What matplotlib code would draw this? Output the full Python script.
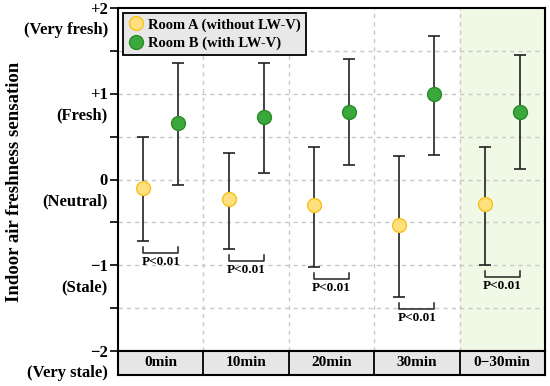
import numpy as np
import matplotlib.pyplot as plt
from matplotlib.lines import Line2D

plt.rcParams['font.family'] = ['Liberation Serif', 'DejaVu Serif']
plt.rcParams['font.weight'] = 'bold'

# data
periods = ["0min", "10min", "20min", "30min", "0\u221230min"]
room_a_mean = [-0.10, -0.23, -0.30, -0.53, -0.29]
room_a_low = [-0.72, -0.81, -1.02, -1.37, -1.00]
room_a_high = [0.49, 0.31, 0.38, 0.27, 0.38]
room_b_mean = [0.66, 0.73, 0.79, 1.00, 0.79]
room_b_low = [-0.06, 0.08, 0.17, 0.29, 0.12]
room_b_high = [1.36, 1.36, 1.40, 1.67, 1.45]
p_labels = ["P<0.01"] * 5
ytick_vals = [2, 1, 0, -1, -2]
ytick_nums = ["+2", "+1", "0", "\u22121", "\u22122"]
ytick_names = ["(Very fresh)", "(Fresh)", "(Neutral)", "(Stale)", "(Very stale)"]

W, H = 550, 386
fig = plt.figure(figsize=(W / 100, H / 100), dpi=100)
ax = fig.add_axes([118 / W, 35 / H, 427 / W, 343 / H])
strip = fig.add_axes([118 / W, 11 / H, 427 / W, 24 / H])

x = np.arange(len(periods))
off = 0.205
xa = x - off
xb = x + off

ax.axvspan(3.5, 4.5, color='#f0f8e6', zorder=0)
ax.set_xlim(-0.5, 4.5)
ax.set_ylim(-2, 2)

for v in np.arange(-1.5, 2.0, 0.5):
    ax.axhline(v, color='#c8c8c8', ls=(0, (3, 3)), lw=1, zorder=1)
for v in np.arange(0.5, 4.0, 1):
    ax.axvline(v, color='#c8c8c8', ls=(0, (3, 3)), lw=1, zorder=1)

ma = np.array(room_a_mean)
mb = np.array(room_b_mean)
ax.errorbar(xa, ma, yerr=[ma - np.array(room_a_low), np.array(room_a_high) - ma],
            fmt='none', ecolor='#222222', elinewidth=1.2, capsize=4, capthick=1.2, zorder=2)
ax.errorbar(xb, mb, yerr=[mb - np.array(room_b_low), np.array(room_b_high) - mb],
            fmt='none', ecolor='#222222', elinewidth=1.2, capsize=4, capthick=1.2, zorder=2)
ax.plot(xa, ma, 'o', ms=10, mfc='#ffdf7e', mec='#f5c21b', mew=1, ls='none', zorder=3)
ax.plot(xb, mb, 'o', ms=10, mfc='#3aa83a', mec='#2a8a2a', mew=1, ls='none', zorder=3)

# significance brackets
for i in range(len(periods)):
    yb = room_a_low[i] - 0.14
    ax.plot([xa[i], xa[i], xb[i], xb[i]], [yb + 0.07, yb, yb, yb + 0.07],
            color='#222222', lw=1.1, zorder=2)
    ax.text(x[i], yb - 0.03, p_labels[i], ha='center', va='top', fontsize=9.5,
            fontweight='bold', zorder=4)

ax.set_xticks([])
ax.set_yticks(ytick_vals)
ax.set_yticks([-1.5, -0.5, 0.5, 1.5], minor=True)
ax.set_yticklabels([])
ax.tick_params(axis='y', which='both', direction='out', length=6, width=1.2)
ytr = ax.get_yaxis_transform()
for num, name, v in zip(ytick_nums, ytick_names, ytick_vals):
    ax.text(-0.024, v - 0.02, num, transform=ytr, ha='right', va='center',
            fontsize=12, fontweight='bold', clip_on=False)
    ax.text(-0.024, v - 0.255, name, transform=ytr, ha='right', va='center',
            fontsize=12, fontweight='bold', clip_on=False)
for s in ax.spines.values():
    s.set_linewidth(1.5)

fig.text(15 / W, 0.53, "Indoor air freshness sensation", rotation=90, ha='center',
         va='center', fontsize=13.5, fontweight='bold')

# legend
handles = [
    Line2D([], [], marker='o', ls='none', ms=10, mfc='#ffdf7e', mec='#f5c21b', label='Room A (without LW-V)'),
    Line2D([], [], marker='o', ls='none', ms=10, mfc='#3aa83a', mec='#2a8a2a', label='Room B (with LW-V)'),
]
leg = ax.legend(handles=handles, loc='upper left', fancybox=False, framealpha=1,
                facecolor='#e8e8e8', edgecolor='black', prop={'weight': 'bold', 'size': 10.5},
                handlelength=1.0, handletextpad=0.35, borderpad=0.35, labelspacing=0.35,
                borderaxespad=0, bbox_to_anchor=(0.012, 0.985))
leg.get_frame().set_linewidth(1.3)
leg.set_zorder(5)

# category strip
strip.set_facecolor('#e6e6e6')
strip.set_xlim(-0.5, 4.5)
strip.set_ylim(0, 1)
strip.set_xticks([])
strip.set_yticks([])
for v in np.arange(0.5, 4.0, 1):
    strip.axvline(v, color='black', lw=1.3)
for i, p in enumerate(periods):
    strip.text(i, 0.5, p, ha='center', va='center', fontsize=11, fontweight='bold')
for s in strip.spines.values():
    s.set_linewidth(1.5)

fig.savefig("out.png", dpi=100)
